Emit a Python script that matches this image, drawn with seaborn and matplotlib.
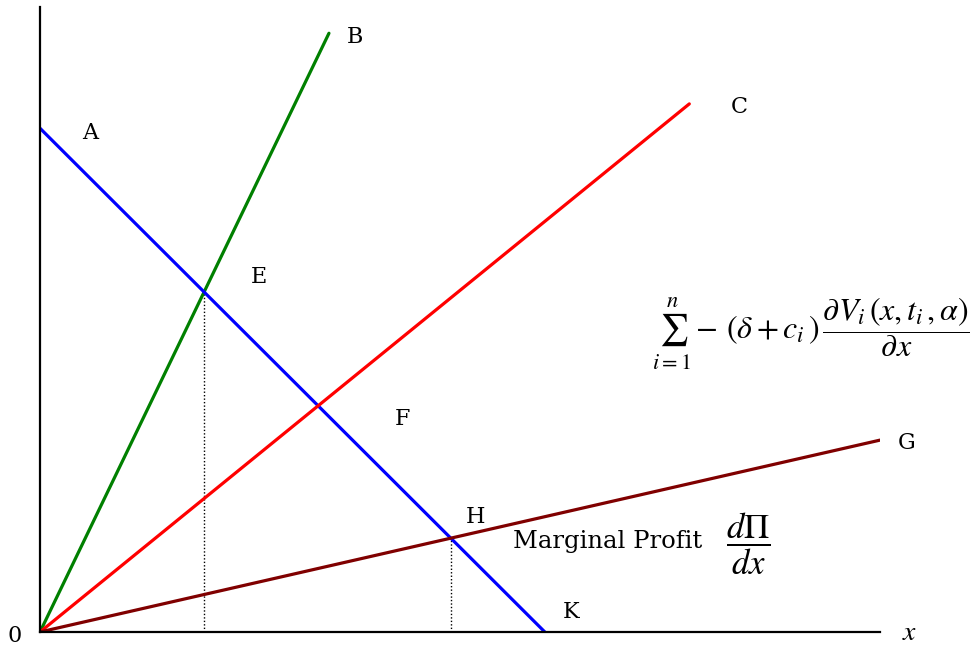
import numpy as np
import pandas as pd
import matplotlib
matplotlib.use("Agg")
import matplotlib.pyplot as plt
import seaborn as sns

# Curve endpoints (x, y) in diagram units
curve_names = ["B", "A", "C", "G"]
curve_x = {"B": [0.0, 3.44], "A": [0.0, 6.01], "C": [0.0, 7.73], "G": [0.0, 10.0]}
curve_y = {"B": [0.0, 9.58], "A": [8.06, 0.0], "C": [0.0, 8.45], "G": [0.0, 3.07]}
curve_colors = {"B": "#008000", "A": "#0000ff", "C": "#ff0000", "G": "#800000"}

# Point labels and their positions
point_labels = ["A", "B", "C", "E", "F", "G", "H", "K"]
label_x = [0.60, 3.75, 8.33, 2.61, 4.31, 10.32, 5.19, 6.32]
label_y = [7.98, 9.52, 8.40, 5.68, 3.41, 3.02, 1.84, 0.32]

sns.set_theme(style="white")
plt.rcParams["font.family"] = ["DejaVu Serif", "Liberation Serif"]
plt.rcParams["mathtext.fontset"] = "stix"
plt.rcParams["text.color"] = "black"

fig = plt.figure(figsize=(9.76, 6.48), dpi=100)
ax = fig.add_axes([40 / 976, 16 / 648, 840 / 976, 625 / 648])

rows = []
for name in curve_names:
    for xv, yv in zip(curve_x[name], curve_y[name]):
        rows.append({"curve": name, "x": xv, "y": yv})
df = pd.DataFrame(rows)

sns.lineplot(data=df, x="x", y="y", hue="curve", palette=curve_colors,
             linewidth=2.3, legend=False, ax=ax, estimator=None, sort=False)

def slope_icpt(name):
    xs, ys = curve_x[name], curve_y[name]
    m = (ys[1] - ys[0]) / (xs[1] - xs[0])
    return m, ys[0] - m * xs[0]

def intersect(n1, n2):
    m1, b1 = slope_icpt(n1)
    m2, b2 = slope_icpt(n2)
    xi = (b2 - b1) / (m1 - m2)
    return xi, m1 * xi + b1

# Dotted drop lines from E and H down to the x axis
for pair in [("B", "A"), ("A", "G")]:
    xi, yi = intersect(*pair)
    ax.plot([xi, xi], [0, yi], color="black", linestyle=(0, (1, 1.5)),
            linewidth=1.0, zorder=1)

ax.set_xlim(0, 10)
ax.set_ylim(0, 10)
ax.set_xticks([])
ax.set_yticks([])
ax.set_xlabel("")
ax.set_ylabel("")
for side in ["top", "right"]:
    ax.spines[side].set_visible(False)
for side in ["left", "bottom"]:
    ax.spines[side].set_color("black")
    ax.spines[side].set_linewidth(1.6)

for lab, lx, ly in zip(point_labels, label_x, label_y):
    ax.text(lx, ly, lab, fontsize=16, ha="center", va="center", clip_on=False)

ax.text(-0.30, -0.06, "0", fontsize=16, ha="center", va="center", clip_on=False)
ax.text(10.35, 0.0, r"$x$", fontsize=20, ha="center", va="center", clip_on=False)

ax.text(9.18, 4.78,
        r"$\sum_{i=1}^{n}-\,(\delta+c_i\,)\,\dfrac{\partial V_i\,(x,t_i\,,\alpha)}{\partial x}$",
        fontsize=23, ha="center", va="center", clip_on=False)

ax.text(5.63, 1.45, "Marginal Profit", fontsize=17.5, ha="left", va="center")
ax.text(8.43, 1.42, r"$\dfrac{d\Pi}{dx}$", fontsize=25, ha="center", va="center")

fig.savefig("out.png", dpi=100)
